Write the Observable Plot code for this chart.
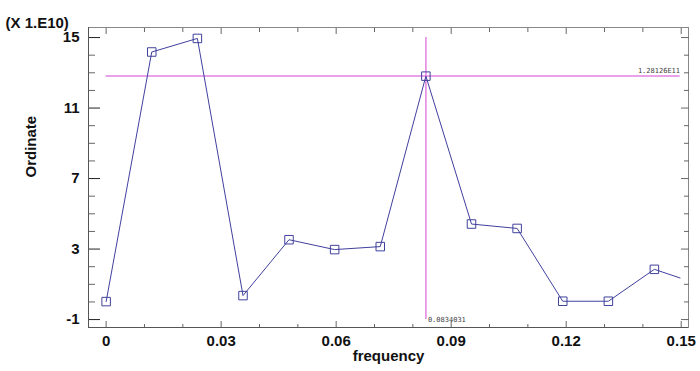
<!DOCTYPE html>
<html>
<head>
<meta charset="utf-8">
<script src="https://cdn.jsdelivr.net/npm/d3@7"></script>
<script src="https://cdn.jsdelivr.net/npm/@observablehq/plot@0.6"></script>
<style>
  html, body { margin: 0; padding: 0; background: #fff; }
  #chart svg { display: block; }
</style>
</head>
<body>
<div id="chart"></div>
<script>
// ---- data ----
const frequency = [0, 0.0119, 0.0238, 0.0357, 0.0477, 0.0596, 0.0715, 0.0834, 0.0953, 0.1072, 0.1191, 0.1310, 0.1430, 0.1497];
const ordinate  = [0.02, 14.18, 14.95, 0.36, 3.53, 2.97, 3.14, 12.81, 4.42, 4.17, 0.04, 0.04, 1.85, 1.36];
const markedCount = 13; // points drawn with a square marker
const xMajorTicks = [0, 0.03, 0.06, 0.09, 0.12, 0.15];
const xMajorLabels = ["0", "0.03", "0.06", "0.09", "0.12", "0.15"];
const xMinorTicks = [0.01, 0.02, 0.04, 0.05, 0.07, 0.08, 0.10, 0.11, 0.13, 0.14];
const yMajorTicks = [-1, 3, 7, 11, 15];
const yMajorLabels = ["-1", "3", "7", "11", "15"];
const yMinorTicks = [0, 1, 2, 4, 5, 6, 8, 9, 10, 12, 13, 14];
const xRange = [-0.0046, 0.1519];
const yRange = [-1.45, 15.57];
const peakFrequency = 0.0834031;
const peakOrdinate = 12.8126;
const peakOrdinateLabel = "1.28126E11";
const peakFrequencyLabel = "0.0834031";
const crossX = [0, 0.1497];
const crossY = [-1, 15];
const xTitle = "frequency";
const yTitle = "Ordinate";
const multiplier = "(X 1.E10)";

const points = frequency.map((f, i) => ({f, v: ordinate[i]}));
const marked = points.slice(0, markedCount);

const font = "Liberation Sans, Arial, Helvetica, sans-serif";
const lineColor = "#40409e";
const crossColor = "#e283e2";
const axisColor = "#666";

const chart = Plot.plot({
  width: 700,
  height: 371,
  marginLeft: 88,
  marginRight: 12,
  marginTop: 27,
  marginBottom: 44,
  style: {fontFamily: font, background: "#fff"},
  x: {domain: xRange},
  y: {domain: yRange},
  marks: [
    Plot.frame({stroke: "#888", strokeWidth: 1}),
    // inward ticks, all four sides
    Plot.axisX(xMinorTicks, {anchor: "bottom", tickSize: -3, text: null, label: null, stroke: axisColor}),
    Plot.axisX(xMajorTicks, {anchor: "bottom", tickSize: -6, text: null, label: null, stroke: axisColor}),
    Plot.axisX(xMinorTicks, {anchor: "top", tickSize: -4, text: null, label: null, stroke: axisColor}),
    Plot.axisX(xMajorTicks, {anchor: "top", tickSize: -6, text: null, label: null, stroke: axisColor}),
    Plot.axisY(yMinorTicks, {anchor: "left", tickSize: -7, text: null, label: null, stroke: axisColor}),
    Plot.axisY(yMajorTicks, {anchor: "left", tickSize: -12, text: null, label: null, stroke: "#222"}),
    Plot.axisY(yMinorTicks, {anchor: "right", tickSize: -5, text: null, label: null, stroke: axisColor}),
    Plot.axisY(yMajorTicks, {anchor: "right", tickSize: -8, text: null, label: null, stroke: axisColor}),
    // tick labels
    Plot.axisX(xMajorTicks, {anchor: "bottom", tickSize: 0, tickPadding: 8, label: null,
      tickFormat: (d, i) => xMajorLabels[i], fontSize: 15, fontWeight: "bold", fill: "#111"}),
    Plot.axisY(yMajorTicks, {anchor: "left", tickSize: 0, tickPadding: 9, label: null,
      tickFormat: (d, i) => yMajorLabels[i], fontSize: 15, fontWeight: "bold", fill: "#111"}),
    Plot.ruleY([yRange[0]], {stroke: "#555", strokeWidth: 1}),
    Plot.ruleX([xRange[0]], {stroke: "#555", strokeWidth: 1}),
    // crosshair
    Plot.ruleX([peakFrequency], {y1: crossY[0], y2: crossY[1], stroke: crossColor, strokeWidth: 1.5}),
    Plot.ruleY([peakOrdinate], {x1: crossX[0], x2: crossX[1], stroke: crossColor, strokeWidth: 1.5}),
    Plot.text([peakOrdinateLabel], {x: crossX[1], y: peakOrdinate, text: d => d, textAnchor: "end",
      dy: -3, lineAnchor: "bottom", fontSize: 7, fill: "#444", fontFamily: "DejaVu Sans Mono, monospace"}),
    Plot.text([peakFrequencyLabel], {x: peakFrequency, y: crossY[0], text: d => d, textAnchor: "start",
      dx: 2, fontSize: 7, fill: "#444", fontFamily: "DejaVu Sans Mono, monospace"}),
    // series
    Plot.line(points, {x: "f", y: "v", stroke: lineColor, strokeWidth: 1}),
    Plot.dot(marked, {x: "f", y: "v", symbol: "square", r: 4.8, stroke: lineColor, strokeWidth: 1, fill: "none"}),
    // titles
    Plot.text([yTitle], {frameAnchor: "left", text: d => d, rotate: -90, dx: -57,
      fontSize: 15, fontWeight: "bold", fill: "#111"}),
    Plot.text([xTitle], {frameAnchor: "bottom", text: d => d, dy: 33,
      fontSize: 15, fontWeight: "bold", fill: "#111"}),
    Plot.text([multiplier], {frameAnchor: "top-left", text: d => d, dx: -83, dy: -10, textAnchor: "start",
      fontSize: 15, fontWeight: "bold", fill: "#111"})
  ]
});
document.getElementById("chart").appendChild(chart);
</script>
</body>
</html>
